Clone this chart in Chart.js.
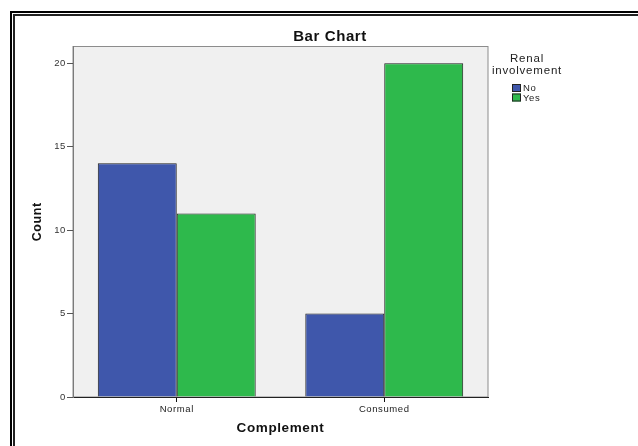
<!DOCTYPE html>
<html>
<head>
<meta charset="utf-8">
<script src="https://cdn.jsdelivr.net/npm/chart.js@4/dist/chart.umd.min.js"></script>
<style>
  html, body { margin: 0; padding: 0; background: #ffffff; }
  #grafico { display: block; }
</style>
</head>
<body>
<canvas id="grafico" width="638" height="446"></canvas>
<script>
// Datos del gráfico
const categorias = ["Normal", "Consumed"];
const etiquetasSerie = ["No", "Yes"];
const valoresNo = [14, 5];
const valoresYes = [11, 20];
const ticksY = [0, 5, 10, 15, 20];
const tituloLeyenda = ["Renal", "involvement"];
const coloresSerie = ["#3f57ab", "#2eb94c"];

Chart.defaults.font.family = "'Liberation Sans', Arial, sans-serif";
Chart.defaults.color = "#222";

// Fondo, marco doble y leyenda estilo SPSS
const estiloSpss = {
  id: "estiloSpss",
  beforeDraw(chart) {
    const ctx = chart.ctx;
    const a = chart.chartArea;
    ctx.save();
    ctx.fillStyle = "#ffffff";
    ctx.fillRect(0, 0, chart.width, chart.height);
    // marco doble (cortado a la derecha y abajo)
    ctx.fillStyle = "#000";
    ctx.fillRect(10, 11, 2, chart.height);
    ctx.fillRect(10, 11, chart.width, 2);
    ctx.fillStyle = "#222";
    ctx.fillRect(13, 14, 2, chart.height);
    ctx.fillRect(13, 14, chart.width, 2);
    // área del gráfico
    ctx.fillStyle = "#f0f0f0";
    ctx.fillRect(a.left, a.top, a.right - a.left, a.bottom - a.top);
    ctx.strokeStyle = "#8c8c8c";
    ctx.lineWidth = 1;
    ctx.strokeRect(a.left, a.top, a.right - a.left, a.bottom - a.top);
    ctx.restore();
    ctx.letterSpacing = "0.6px";
  },
  afterDraw(chart) {
    const ctx = chart.ctx;
    ctx.save();
    ctx.letterSpacing = "0.8px";
    ctx.fillStyle = "#222";
    ctx.textAlign = "center";
    ctx.textBaseline = "middle";
    ctx.font = "11.5px 'Liberation Sans', Arial, sans-serif";
    tituloLeyenda.forEach((t, i) => ctx.fillText(t, 527, 59 + i * 12));
    ctx.textAlign = "left";
    ctx.letterSpacing = "0.6px";
    ctx.font = "9.5px 'Liberation Sans', Arial, sans-serif";
    chart.data.datasets.forEach((ds, i) => {
      const y = 88 + i * 9.5;
      ctx.fillStyle = ds.backgroundColor;
      ctx.fillRect(512, y - 4, 9, 8);
      ctx.strokeStyle = "#222";
      ctx.strokeRect(512.5, y - 3.5, 8, 7);
      ctx.fillStyle = "#222";
      ctx.fillText(ds.label, 523, y + 0.5);
    });
    ctx.restore();
  }
};

new Chart(document.getElementById("grafico"), {
  type: "bar",
  data: {
    labels: categorias,
    datasets: [
      {
        label: etiquetasSerie[0],
        data: valoresNo,
        backgroundColor: coloresSerie[0],
        borderColor: "#1e1e1e",
        borderWidth: 1,
        categoryPercentage: 0.761,
        barPercentage: 1
      },
      {
        label: etiquetasSerie[1],
        data: valoresYes,
        backgroundColor: coloresSerie[1],
        borderColor: "#1e1e1e",
        borderWidth: 1,
        categoryPercentage: 0.761,
        barPercentage: 1
      }
    ]
  },
  options: {
    responsive: false,
    animation: false,
    layout: { padding: { left: 27, top: 0, right: 5, bottom: 7 } },
    plugins: {
      legend: { display: false },
      tooltip: { enabled: false },
      title: {
        display: true,
        text: "Bar Chart",
        color: "#111",
        font: { size: 15, weight: "bold" },
        padding: { top: 28, bottom: 0.5 }
      }
    },
    scales: {
      x: {
        type: "category",
        grid: { offset: false, drawOnChartArea: false, tickLength: 5, color: "#111" },
        border: { color: "#222", width: 1 },
        ticks: { font: { size: 9.5 }, color: "#222", padding: 2, maxRotation: 0 },
        title: {
          display: true,
          text: "Complement",
          color: "#111",
          font: { size: 13.5, weight: "bold" },
          padding: { top: 0, bottom: 3 }
        },
        afterFit(s) { s.height = 42; }
      },
      y: {
        min: 0,
        max: 21,
        grid: { drawOnChartArea: false, tickLength: 6, color: "#555" },
        border: { color: "#7a7a7a", width: 1 },
        ticks: { font: { size: 9.5 }, color: "#333", padding: 1 },
        afterBuildTicks(axis) { axis.ticks = ticksY.map(v => ({ value: v })); },
        title: {
          display: true,
          text: "Count",
          color: "#111",
          font: { size: 12.5, weight: "bold" },
          padding: { top: 3, bottom: 0 }
        },
        afterFit(s) { s.width = 46; }
      },
      espacioLeyenda: {
        type: "linear",
        position: "right",
        grid: { display: false, drawTicks: false },
        border: { display: false },
        ticks: { display: false },
        afterFit(s) { s.width = 145; }
      }
    }
  },
  plugins: [estiloSpss]
});
</script>
</body>
</html>
